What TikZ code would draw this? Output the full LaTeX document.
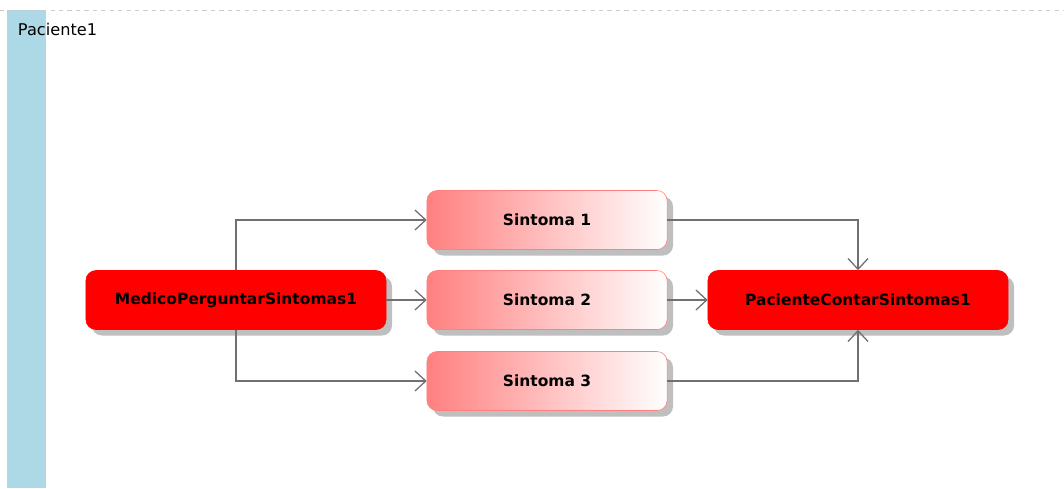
\documentclass[tikz,border=0pt]{standalone}
\usepackage{fontspec}
\setmainfont{DejaVu Sans}
\usepackage{xcolor}
\usetikzlibrary{arrows.meta,shadows}
\definecolor{lanebar}{HTML}{ADD8E6}
\definecolor{flowline}{HTML}{707070}
\definecolor{pinkred}{HTML}{FF8080}

\begin{document}
\begin{tikzpicture}[x=0.025cm,y=-0.025cm,
    acao/.style={rectangle, rounded corners=0.25cm, fill=red, draw=red,
      minimum width=7.5cm, minimum height=1.475cm, font=\bfseries\fontsize{11}{13}\selectfont,
      drop shadow={shadow xshift=0.15cm, shadow yshift=-0.15cm, fill=black!25, opacity=1}},
    sintoma/.style={rectangle, rounded corners=0.25cm, left color=pinkred, right color=white,
      draw=pinkred, minimum width=6cm, minimum height=1.475cm, font=\bfseries\fontsize{11}{13}\selectfont,
      drop shadow={shadow xshift=0.15cm, shadow yshift=-0.15cm, fill=black!25, opacity=1}},
    fluxo/.style={draw=flowline, line width=0.9pt, -{Straight Barb[length=0.27cm,width=0.5cm]}}]
  \useasboundingbox (0,0) rectangle (1064,488);
  % raia
  \fill[lanebar] (7,10) rectangle (46,488);
  \draw[black!20, dashed] (0,10) -- (1064,10);
  \node[anchor=west, font=\fontsize{11.5}{13}\selectfont] (raia) at (13,29) {Paciente1};
  % atividades
  \node[acao] (medico) at (236,300) {MedicoPerguntarSintomas1};
  \node[acao] (paciente) at (858,300) {PacienteContarSintomas1};
  \foreach \i/\y in {1/220,2/300,3/381}
    \node[sintoma] (s\i) at (547,\y) {Sintoma \i};
  % fluxos
  \draw[fluxo] (medico.north) |- (s1.west);
  \draw[fluxo] (medico.east) -- (s2.west);
  \draw[fluxo] (medico.south) |- (s3.west);
  \draw[fluxo] (s1.east) -| (paciente.north);
  \draw[fluxo] (s2.east) -- (paciente.west);
  \draw[fluxo] (s3.east) -| (paciente.south);
\end{tikzpicture}
\end{document}
